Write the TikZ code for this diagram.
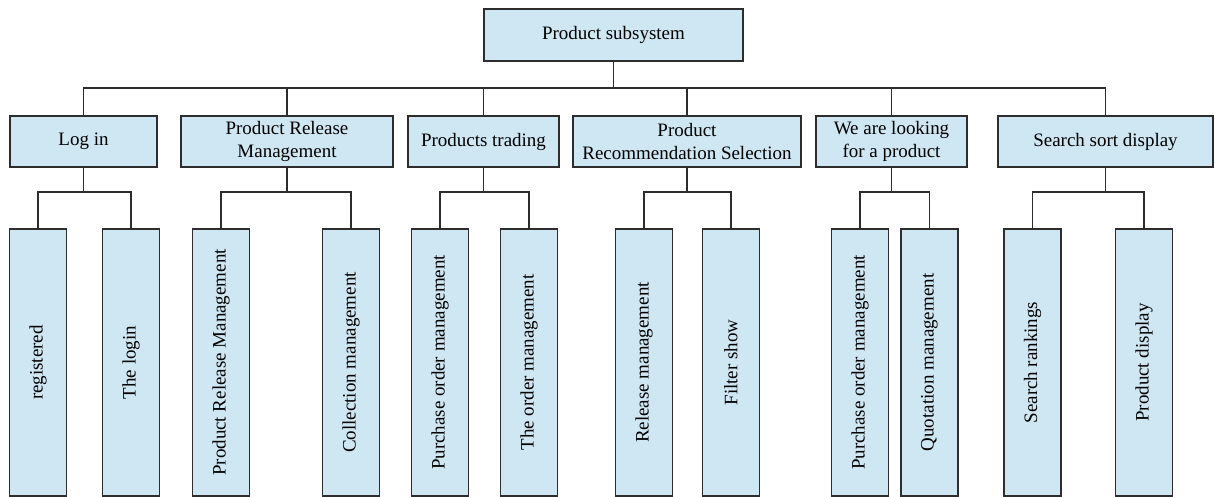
\documentclass[tikz,border=0pt]{standalone}
\usepackage{fontspec}
\setmainfont{Liberation Serif}
\usepackage{graphicx}
\definecolor{boxfill}{RGB}{207,230,243}
\definecolor{boxline}{RGB}{45,45,45}
\begin{document}
\begin{tikzpicture}[x=0.02cm,y=-0.02cm,
  box/.style={draw=boxline,fill=boxfill,line width=0.8pt,inner sep=0pt,align=center,
    font=\fontsize{10.8}{13}\selectfont},
  topbox/.style={box,minimum width=5.18cm,minimum height=1.04cm},
  midbox/.style={box,minimum height=1.02cm},
  leaf/.style={box,minimum width=1.14cm,minimum height=5.34cm},
  conn/.style={draw=boxline,line width=0.8pt}]
\useasboundingbox (0,0) rectangle (1215,497);
% root
\node[topbox] (root) at (613.5,35) {Product subsystem};
% level 2
\node[midbox,minimum width=2.94cm] (login) at (83.5,141.5) {Log in};
\node[midbox,minimum width=4.24cm] (prm) at (287,141.5) {Product Release\\Management};
\node[midbox,minimum width=3.02cm] (trade) at (483.5,141.5) {Products trading};
\node[midbox,minimum width=4.56cm] (prs) at (687,141.5) {Product\\Recommendation Selection};
\node[midbox,minimum width=3.02cm] (look) at (891.5,141.5) {We are looking\\for a product};
\node[midbox,minimum width=4.30cm] (search) at (1105.5,141.5) {Search sort display};
% leaves
\node[leaf] (l1) at (38,362.5) {\rotatebox{90}{registered}};
\node[leaf] (l2) at (131,362.5) {\rotatebox{90}{The login}};
\node[leaf] (l3) at (221,362.5) {\rotatebox{90}{Product Release Management}};
\node[leaf] (l4) at (351,362.5) {\rotatebox{90}{Collection management}};
\node[leaf] (l5) at (440,362.5) {\rotatebox{90}{Purchase order management}};
\node[leaf] (l6) at (529,362.5) {\rotatebox{90}{The order management}};
\node[leaf] (l7) at (644,362.5) {\rotatebox{90}{Release management}};
\node[leaf] (l8) at (731,362.5) {\rotatebox{90}{Filter show}};
\node[leaf] (l9) at (860,362.5) {\rotatebox{90}{Purchase order management}};
\node[leaf] (l10) at (929.5,362.5) {\rotatebox{90}{Quotation management}};
\node[leaf] (l11) at (1032.5,362.5) {\rotatebox{90}{Search rankings}};
\node[leaf] (l12) at (1144,362.5) {\rotatebox{90}{Product display}};
% bus coordinates
\coordinate (bus) at (613.5,88);
\coordinate (sub) at (0,192);
% top bus
\draw[conn] (root.south) -- (bus);
\draw[conn] (login.north) -- (login.north |- bus) -- (search.north |- bus) -- (search.north);
\foreach \n in {prm,trade,prs,look}{\draw[conn] (\n.north) -- (\n.north |- bus);}
% sub buses
\foreach \p/\a/\b in {login/l1/l2,prm/l3/l4,trade/l5/l6,prs/l7/l8,look/l9/l10,search/l11/l12}{
  \draw[conn] (\p.south) -- (\p.south |- sub);
  \draw[conn] (\a.north) -- (\a.north |- sub) -- (\b.north |- sub) -- (\b.north);
}
\end{tikzpicture}
\end{document}
